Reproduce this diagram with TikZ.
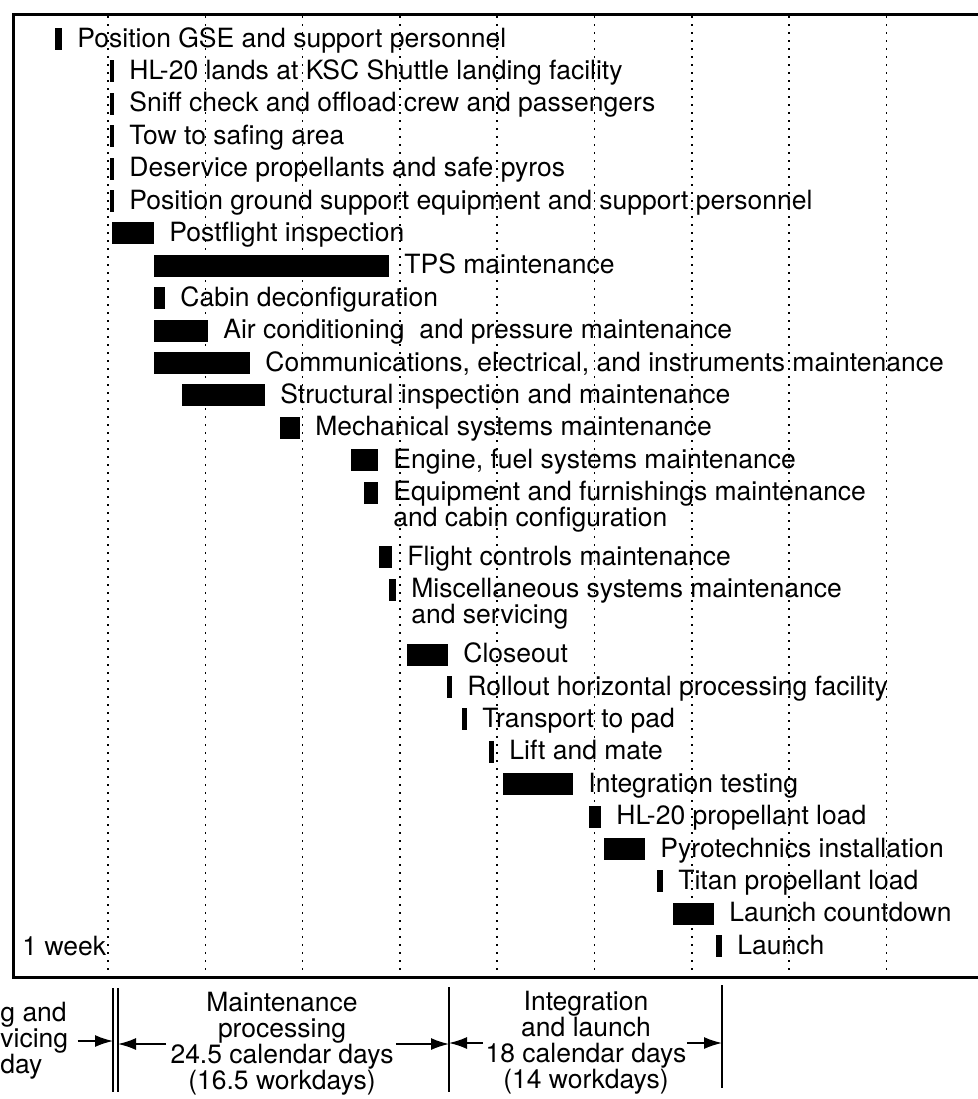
\documentclass[tikz,border=0pt]{standalone}
\usepackage{fontspec}
\setmainfont{TeX Gyre Heros}
\usetikzlibrary{arrows.meta}

\begin{document}
\begin{tikzpicture}[
x=0.5pt, y=-0.5pt,
every node/.style={inner sep=0pt, font=\fontsize{13.25pt}{13pt}\selectfont},
task/.style={anchor=base west, align=left},
phase/.style={align=center},
grid/.style={line width=0.75pt, dash pattern=on 0.75pt off 3.25pt},
frame/.style={line width=1.5pt},
sepline/.style={line width=0.8pt},
arr/.style={-{Latex[length=9pt,width=6pt]}, line width=0.8pt}
]

\useasboundingbox (0,0) rectangle (978,1099);

% one dotted line per week
\foreach \k in {0,...,8}
  \draw[grid] ({108+97.3*\k},16) -- ({108+97.3*\k},976);

\draw[frame] (978,14) -- (13,14) -- (13,977) -- (978,977);

% bars and task labels: start/end/row/extra lines/text
\foreach \a/\b/\s/\n/\txt [count=\i] in {
55/62/0/0/{Position GSE and support personnel},
110/114/1/0/{HL-20 lands at KSC Shuttle landing facility},
110/114/2/0/{Sniff check and offload crew and passengers},
110/114/3/0/{Tow to safing area},
110/114/4/0/{Deservice propellants and safe pyros},
110/114/5/0/{Position ground support equipment and support personnel},
112/154/6/0/{Postflight inspection},
154/389/7/0/{TPS maintenance},
154/165/8/0/{Cabin deconfiguration},
154/208/9/0/{Air conditioning\ \ and pressure maintenance},
154/250/10/0/{Communications, electrical, and instruments maintenance},
182/265/11/0/{Structural inspection and maintenance},
280/300/12/0/{Mechanical systems maintenance},
351/378/13/0/{Engine, fuel systems maintenance},
364/378/14/1/{Equipment and furnishings maintenance\\and cabin configuration},
379/392/16/0/{Flight controls maintenance},
389/396/17/1/{Miscellaneous systems maintenance\\and servicing},
407/448/19/0/{Closeout},
447/452/20/0/{Rollout horizontal processing facility},
462/467/21/0/{Transport to pad},
489/494/22/0/{Lift and mate},
503/573/23/0/{Integration testing},
589/601/24/0/{HL-20 propellant load},
604/645/25/0/{Pyrotechnics installation},
657/663/26/0/{Titan propellant load},
673/714/27/0/{Launch countdown},
716/722/28/0/{Launch}
} {
  \fill (\a,{47+32.4*\s-19}) rectangle (\b,{47+32.4*\s+3});
  \node[task] (t\i) at (\b+15,{47+32.4*\s+26*\n}) {\txt};
}

\node[task] (week) at (22,955) {1 week};

% phases below the chart
\node[task, anchor=west] (safe) at (0,1041) {g and\\vicing\\day};
\node[phase] (maint) at (282,1044) {Maintenance\\processing\\24.5 calendar days\\(16.5 workdays)};
\node[phase] (integ) at (586,1043) {Integration\\and launch\\18 calendar days\\(14 workdays)};

\coordinate (d1) at (113,1041);
\coordinate (d2) at (118,1041);
\coordinate (d3) at (449,1039);
\coordinate (d4) at (722,1037);

\draw[sepline] (113,988) -- (113,1092);
\draw[sepline] (118,988) -- (118,1092);
\draw[sepline] (449,987) -- (449,1092);
\draw[sepline] (722,985) -- (722,1088);

\draw[arr] ([xshift=4.5pt]safe.east) -- (safe.east -| d1);
\draw[arr] ([xshift=-2pt]maint.west) -- (maint.west -| d2);
\draw[arr] ([xshift=1pt]maint.east) -- (maint.east -| d3);
\draw[arr] ([xshift=-1pt]integ.west) -- (integ.west -| d3);
\draw[arr] (integ.east) -- (integ.east -| d4);

\end{tikzpicture}
\end{document}
